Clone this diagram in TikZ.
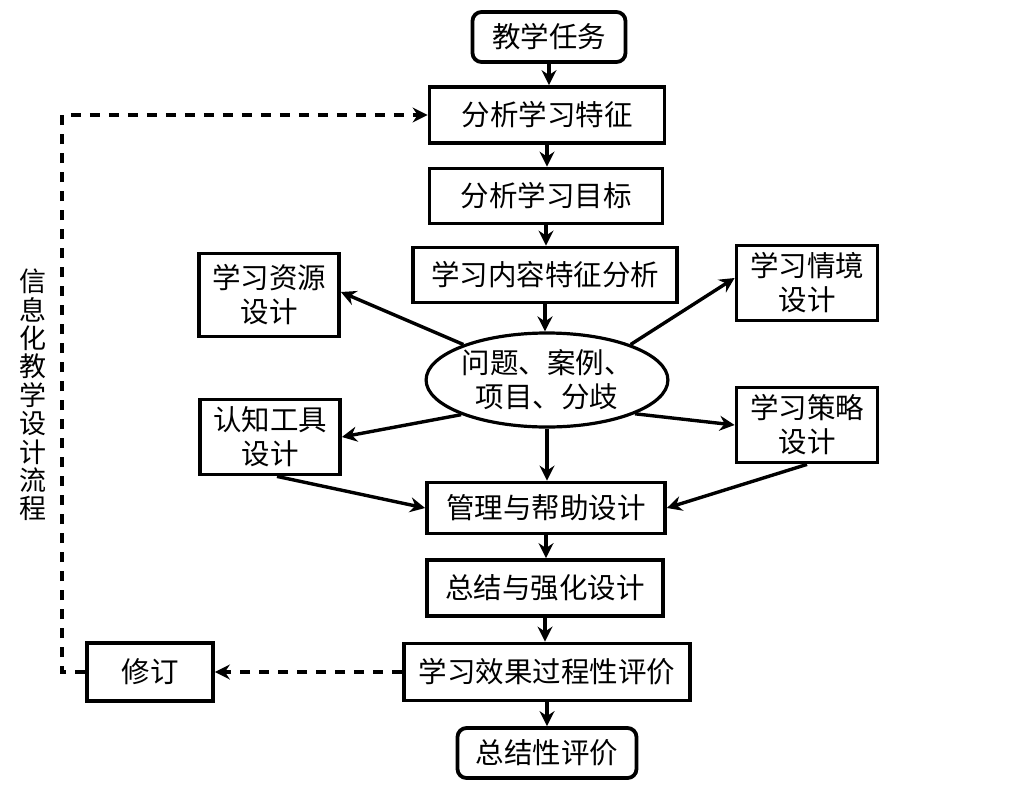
\documentclass[tikz,border=0pt]{standalone}
\usepackage{fontspec}
\setmainfont{Noto Sans CJK SC}
\usepackage{tikz}
\usetikzlibrary{arrows.meta,shapes.geometric}

\begin{document}
\begin{tikzpicture}[x=1pt,y=-1pt]
            \tikzstyle{box}=[draw,line width=3.8pt,inner sep=0pt,align=center,font=\fontsize{28.5}{34}\selectfont]
            \tikzstyle{endbox}=[box,rounded corners=9pt]
            \tikzstyle{arr}=[line width=3.4pt,-{Stealth[length=15pt,width=15pt,inset=5pt]}]
            \tikzstyle{back}=[arr,dash pattern=on 10pt off 9pt]
            \useasboundingbox (0,0) rectangle (1020,785);
            % main column
            \node[endbox,minimum width=153pt,minimum height=50pt] (task) at (549,37) {教学任务};
            \node[box,minimum width=235pt,minimum height=56pt] (feat) at (547,115) {分析学习特征};
            \node[box,minimum width=233pt,minimum height=55pt] (goal) at (546,196) {分析学习目标};
            \node[box,minimum width=264pt,minimum height=55pt] (cont) at (545,275) {学习内容特征分析};
            \node[box,ellipse,line width=3.2pt,minimum width=218pt,minimum height=94pt] (prob) at (547,380) {问题、案例、\\项目、分歧};
            \node[box,minimum width=238pt,minimum height=51pt] (mgmt) at (546,508) {管理与帮助设计};
            \node[box,minimum width=236pt,minimum height=56pt] (summ) at (545,588) {总结与强化设计};
            \node[box,minimum width=286pt,minimum height=57pt] (eval) at (547,672) {学习效果过程性评价};
            \node[endbox,minimum width=179pt,minimum height=50pt] (final) at (547,753) {总结性评价};
            % side boxes
            \node[box,minimum width=140pt,minimum height=83pt] (res) at (269,295) {学习资源\\设计};
            \node[box,minimum width=140pt,minimum height=75pt] (tool) at (270,437) {认知工具\\设计};
            \node[box,minimum width=141pt,minimum height=75pt] (situ) at (807,283) {学习情境\\设计};
            \node[box,minimum width=141pt,minimum height=75pt] (strat) at (807,425) {学习策略\\设计};
            \node[box,minimum width=126pt,minimum height=58pt] (revise) at (150,672) {修订};
            \node[align=center,text width=28pt,inner sep=0pt,font=\fontsize{27}{28.4}\selectfont] (title) at (33,395) {信\\息\\化\\教\\学\\设\\计\\流\\程};
            \coordinate (lowturn) at (62,672);
            \coordinate (upturn) at (62,115);
            % connectors
            \draw[arr] (task.south) -- (task.south |- feat.north);
            \draw[arr] (feat.south) -- (feat.south |- goal.north);
            \draw[arr] (goal.south) -- (goal.south |- cont.north);
            \draw[arr] (cont.south) -- (cont.south |- prob.north);
            \draw[arr] (prob.157) -- ([yshift=3pt]res.east);
            \draw[arr] (prob.23) -- ([yshift=5pt]situ.west);
            \draw[arr] (prob.202) -- (tool.east);
            \draw[arr] (prob.339) -- (strat.west);
            \draw[arr] (prob.south) -- (prob.south |- mgmt.north);
            \draw[arr] ([xshift=7pt]tool.south) -- (mgmt.west);
            \draw[arr] (strat.south) -- (mgmt.east);
            \draw[arr] (mgmt.south) -- (mgmt.south |- summ.north);
            \draw[arr] (summ.south) -- (summ.south |- eval.north);
            \draw[arr] (eval.south) -- (eval.south |- final.north);
            \draw[back] (eval.west) -- (revise.east);
            \draw[back] (revise.west) -- (lowturn) -- (upturn) -- (feat.west);
        \end{tikzpicture}
\end{document}
